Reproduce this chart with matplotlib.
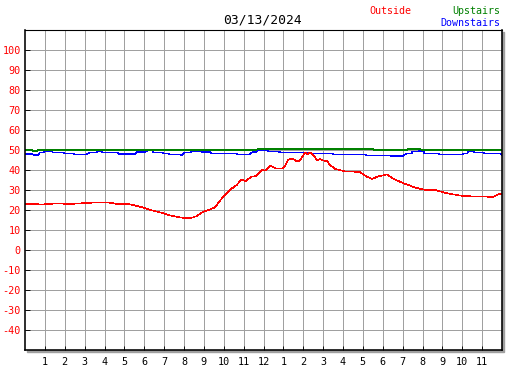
import matplotlib
matplotlib.use("Agg")
import matplotlib.pyplot as plt
from matplotlib.patches import Rectangle

# temperature readings, hours after midnight
outside_hours = [0, 0.9, 1.6, 2.25, 2.75, 3.6, 4.15, 4.65, 5.15, 5.45,
                 5.95, 6.3, 6.8, 7.3, 7.8, 8.15, 8.45, 8.65, 8.9, 9.3,
                 9.55, 9.8, 10.05, 10.3, 10.65, 10.9, 11.1, 11.4, 11.65, 11.9,
                 12.1, 12.35, 12.6, 12.95, 13.1, 13.25, 13.5, 13.7, 13.85, 14.1,
                 14.2, 14.35, 14.5, 14.7, 14.85, 15.0, 15.2, 15.35, 15.6, 15.85,
                 16.1, 16.45, 16.85, 17.2, 17.45, 17.75, 18.2, 18.5, 18.85, 19.2,
                 19.6, 20.15, 20.65, 21.05, 21.55, 22.05, 22.55, 23.0, 23.25, 23.5,
                 23.75, 23.9, 24.0]
outside_temps = [23, 22.8, 23.3, 23, 23.3, 23.8, 23.8, 23, 23, 22.5,
                 21.2, 20, 18.8, 17.3, 16.3, 15.8, 16.3, 17, 18.8, 20.3,
                 21.3, 24.5, 27.5, 30, 32.5, 35.3, 34.5, 36.7, 37, 40,
                 39.7, 42.2, 40.8, 40.8, 42.2, 45.3, 45.5, 44.2, 45, 48.8,
                 47.8, 48.8, 47.5, 45, 45.5, 44.7, 44.5, 42.5, 40.5, 40,
                 39.2, 39.2, 39, 36.7, 35.5, 36.7, 37.8, 35.8, 34.2, 32.8,
                 31.3, 30, 30, 28.8, 27.8, 27, 26.8, 26.8, 26.7, 26.3,
                 27.5, 28.3, 27.8]

down_hours = [0, 0.3, 0.5, 0.65, 0.75, 0.9, 1.0, 1.35, 1.4, 1.9,
              2.0, 2.4, 2.5, 3.1, 3.25, 3.6, 3.65, 3.85, 3.9, 4.65,
              4.7, 5.55, 5.65, 6.05, 6.15, 6.4, 6.45, 6.9, 6.95, 7.2,
              7.3, 7.8, 7.9, 8.05, 8.3, 8.4, 8.8, 8.9, 9.3, 9.4,
              10.65, 10.7, 11.3, 11.45, 11.65, 11.7, 12.2, 12.25, 12.75, 12.85,
              14.1, 14.45, 15.45, 15.5, 17.1, 17.2, 18.35, 18.45, 19.0, 19.2,
              19.45, 19.5, 19.8, 19.85, 20.05, 20.1, 20.8, 20.85, 22.0, 22.05,
              22.25, 22.3, 22.55, 22.65, 23.05, 23.15, 23.9, 24.0]
down_temps = [48, 48, 47.5, 47.5, 48.7, 48.7, 49.3, 49.3, 48.8, 48.8,
              48.3, 48.3, 47.8, 47.8, 48.8, 48.8, 49.5, 49.5, 48.8, 48.8,
              48, 48, 49, 49, 49.7, 49.7, 48.8, 48.8, 48.3, 48.3,
              47.8, 47.8, 47.3, 48.8, 48.8, 49.5, 49.5, 49, 49, 48.3,
              48.3, 47.8, 47.8, 49, 49, 50, 50, 49.3, 49.3, 48.8,
              48.8, 48.3, 48.3, 47.8, 47.8, 47.3, 47.3, 47, 47, 48.3,
              48.3, 49.2, 49.2, 49.5, 49.5, 48.3, 48.3, 47.8, 47.8, 48.3,
              48.3, 49.2, 49.2, 48.8, 48.8, 48.3, 48.3, 47.5]

up_hours = [0, 0.35, 0.4, 0.6, 0.65, 11.65, 11.7, 17.5, 17.55,
            19.2, 19.25, 19.9, 19.95, 24]
up_temps = [50, 50, 49.5, 49.5, 50, 50, 50.5, 50.5, 50,
            50, 50.5, 50.5, 50, 50]

hour_ticks = list(range(1, 24))
hour_labels = [str(h) for h in range(1, 13)] + [str(h) for h in range(1, 12)]
temp_ticks = list(range(-40, 101, 10))

title = "03/13/2024"
mono = "DejaVu Sans Mono"
px = 0.72  # one pixel in points at 100 dpi

W, H = 527, 370
fig = plt.figure(figsize=(W / 100, H / 100), dpi=100)
L, R, T, B = 25, 502, 30, 350

# drop shadow behind the plot frame
fig.add_artist(Rectangle(((L + 2) / W, (H - B - 2) / H), (R - L) / W, (B - T) / H,
                         transform=fig.transFigure, color="#a0a0a0", zorder=-1))
ax = fig.add_axes([L / W, (H - B) / H, (R - L) / W, (B - T) / H])
ax.set_facecolor("white")

ax.plot(down_hours, down_temps, color="#0000ff", lw=0.6 * px, antialiased=False)
ax.plot(up_hours, up_temps, color="#008000", lw=0.6 * px, antialiased=False)
ax.plot(outside_hours, outside_temps, color="#ff0000", lw=0.6 * px, antialiased=False)

ax.set_xlim(0, 24)
ax.set_ylim(-50, 110)
ax.set_xticks(hour_ticks)
ax.set_xticklabels(hour_labels, family=mono, fontsize=7.3, color="black")
ax.set_yticks(temp_ticks)
ax.set_yticklabels([str(t) for t in temp_ticks], family=mono, fontsize=7.3, color="#ff0000")
ax.tick_params(axis="both", direction="in", length=4.5 * px, width=0.9 * px, color="black")
ax.tick_params(axis="x", pad=5)
ax.tick_params(axis="y", pad=3)
ax.grid(True, color="#a0a0a0", lw=0.9 * px, antialiased=False)
ax.set_axisbelow(True)
for side in ["left", "bottom", "right"]:
    ax.spines[side].set_linewidth(1.6 * px)
ax.spines["top"].set_linewidth(1.1 * px)

fig.text(263 / W, 1 - 20 / H, title, family=mono, fontsize=9.4,
         ha="center", va="center", color="black")
fig.text(369 / W, 1 - 11 / H, "Outside", family=mono, fontsize=7.2,
         ha="left", va="center", color="#ff0000")
fig.text(500 / W, 1 - 11 / H, "Upstairs", family=mono, fontsize=7.2,
         ha="right", va="center", color="#008000")
fig.text(500 / W, 1 - 23 / H, "Downstairs", family=mono, fontsize=7.2,
         ha="right", va="center", color="#0000ff")

fig.savefig("out.png", dpi=100)
